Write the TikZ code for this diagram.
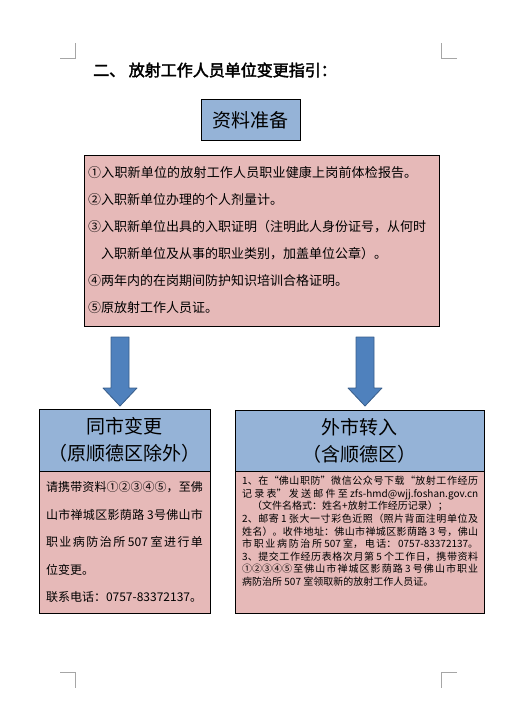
\documentclass[tikz,border=0pt]{standalone}
\usepackage{fontspec}
\newfontfamily\cjk{Noto Sans CJK SC}
\newfontfamily\cjkbold[FakeBold=2.5]{Noto Sans CJK SC}
\usepackage{xcolor}
\usetikzlibrary{positioning}
\definecolor{hdrblue}{HTML}{95B3D7}
\definecolor{docpink}{HTML}{E6B9B8}
\definecolor{arrfill}{HTML}{4F81BD}
\definecolor{arrline}{HTML}{385D8A}
% stretch between CJK characters for justified lines
\XeTeXlinebreaklocale "zh"
\XeTeXlinebreakskip=0pt plus 1fil
\newcommand\jl[2]{\parbox[t]{#1}{\parfillskip=0pt\relax\noindent#2}}
\begin{document}
\begin{tikzpicture}[x=1pt, y=-1pt,
  hdr/.style={draw, fill=hdrblue, inner sep=0pt, align=center,
              font=\cjk\fontsize{19}{27}\selectfont},
  body/.style={draw, fill=docpink, inner sep=0pt},
  cropmark/.style={draw=gray!70, line width=0.8pt},
  blockarr/.style={draw=arrline, fill=arrfill, line width=0.8pt, line join=round}
]
  \useasboundingbox (0,0) rectangle (516,726);

  % Page corner marks
  \draw[cropmark] (60,58) -- (75.5,58) -- (75.5,43);
  \draw[cropmark] (457,58) -- (441,58) -- (441,43);
  \draw[cropmark] (60,672) -- (75.5,672) -- (75.5,688);
  \draw[cropmark] (457,672) -- (441,672) -- (441,688);

  % Title
  \node[anchor=west, inner sep=0pt, font=\cjkbold\fontsize{16}{18}\selectfont]
    (title) at (93,70) {二、 放射工作人员单位变更指引：};

  % Documents
  \node[hdr, minimum width=99, minimum height=41] (prep) at (250.5,120) {资料准备};
  \node[body, minimum width=355, minimum height=171] (docs) at (261.5,240.5) {};
  \node[anchor=west, inner sep=0pt, align=left,
        font=\cjk\fontsize{13}{27}\selectfont] (doclist) at (88,240.5)
    {\jl{329pt}{①入职新单位的放射工作人员职业健康上岗前体检报告。}\\
     ②入职新单位办理的个人剂量计。\\
     ③入职新单位出具的入职证明（注明此人身份证号，从何时\\
     \phantom{③}入职新单位及从事的职业类别，加盖单位公章）。\\
     ④两年内的在岗期间防护知识培训合格证明。\\
     ⑤原放射工作人员证。};

  % Same city
  \node[hdr, minimum width=171, minimum height=62] (same) at (124.5,440)
    {同市变更\\（原顺德区除外）};
  \node[body, minimum width=171, minimum height=142, align=left,
        font=\cjk\fontsize{12}{27.5}\selectfont, below=0pt of same] (samebody)
    {\jl{157pt}{请携带资料①②③④⑤，至佛}\\
     \jl{157pt}{山市禅城区影荫路 3号佛山市}\\
     \jl{157pt}{职业病防治所 507 室进行单}\\
     位变更。\\
     联系电话：0757-83372137。};

  % Other city
  \node[hdr, minimum width=249, minimum height=61] (other) at (359.5,440.5)
    {外市转入\\（含顺德区）};
  \node[body, minimum width=249, minimum height=142, below=0pt of other] (otherbody) {};
  \node[anchor=north west, inner sep=0pt, align=left,
        font=\cjk\fontsize{10}{12.6}\selectfont] (othertext) at (242,476)
    {\jl{236pt}{1、在“佛山职防”微信公众号下载“放射工作经历}\\
     \jl{236pt}{记录表” 发送邮件至 zfs-hmd@wjj.foshan.gov.cn}\\
     \quad（文件名格式：姓名+放射工作经历记录）；\\
     \jl{236pt}{2、邮寄 1 张大一寸彩色近照（照片背面注明单位及}\\
     \jl{236pt}{姓名）。收件地址：佛山市禅城区影荫路 3 号，佛山}\\
     \jl{236pt}{市职业病防治所 507 室，电话：0757-83372137。}\\
     \jl{236pt}{3、提交工作经历表格次月第 5 个工作日，携带资料}\\
     \jl{236pt}{①②③④⑤至佛山市禅城区影荫路 3 号佛山市职业}\\
     病防治所 507 室领取新的放射工作人员证。};

  % Block arrows
  \foreach \ax in {120,365}
    \draw[blockarr] (\ax,337) ++(-9,0) -- ++(18,0) -- ++(0,51) -- ++(8,0)
      -- ++(-17,18) -- ++(-17,-18) -- ++(8,0) -- cycle;
\end{tikzpicture}
\end{document}
